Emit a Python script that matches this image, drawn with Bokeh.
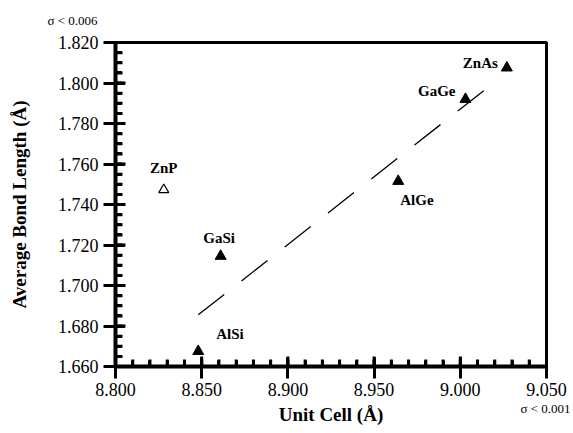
from bokeh.plotting import figure
from bokeh.models import FixedTicker, Range1d, Title, NumeralTickFormatter, LinearAxis
from bokeh.core.properties import value
from bokeh.embed import file_html
from bokeh.resources import INLINE

# data
names = ["ZnAs", "GaGe", "AlGe", "GaSi", "AlSi"]
unit_cell = [9.027, 9.003, 8.964, 8.861, 8.848]
bond_len = [1.8075, 1.792, 1.7515, 1.7145, 1.6675]
open_names = ["ZnP"]
open_cell = [8.828]
open_bond = [1.7473]
fit_x = [8.848, 9.0164]
fit_y = [1.6855, 1.7981]
x_ticks = [8.800, 8.850, 8.900, 8.950, 9.000, 9.050]
y_ticks = [1.660, 1.680, 1.700, 1.720, 1.740, 1.760, 1.780, 1.800, 1.820]
x_minor = [round(8.800 + 0.01 * i, 3) for i in range(26)]
y_minor = [round(1.660 + 0.005 * i, 3) for i in range(33)]
x_label = "Unit Cell (Å)"
y_label = "Average Bond Length (Å)"
x_sigma = "σ < 0.001"
y_sigma = "σ < 0.006"

SERIF = "Liberation Serif"
X0, X1 = 8.800, 9.050
Y0, Y1 = 1.660, 1.820
W, H = 573, 433
BL, BR, BT, BB = 115, 27, 42, 67
# data units per screen pixel inside the frame
px_x = (X1 - X0) / (W - BL - BR)
px_y = (Y1 - Y0) / (H - BT - BB)

p = figure(width=W, height=H, output_backend="svg", toolbar_location=None,
           x_range=Range1d(X0, X1), y_range=Range1d(Y0, Y1),
           min_border_left=BL, min_border_right=BR, min_border_top=BT, min_border_bottom=BB)
p.grid.visible = False
p.background_fill_color = "white"
p.border_fill_color = "white"
p.outline_line_color = "black"
p.outline_line_width = 3

for ax, ticks, minor in ((p.xaxis[0], x_ticks, x_minor), (p.yaxis[0], y_ticks, y_minor)):
    ax.ticker = FixedTicker(ticks=ticks, minor_ticks=minor)
    ax.formatter = NumeralTickFormatter(format="0.000")
    ax.axis_line_width = 4
    ax.axis_line_color = "black"
    ax.major_tick_line_width = 3
    ax.major_tick_line_color = "black"
    ax.major_tick_out = 12
    ax.major_tick_in = 9
    ax.minor_tick_line_width = 3
    ax.minor_tick_line_color = "black"
    ax.minor_tick_in = 6
    ax.minor_tick_out = 0
    ax.major_label_text_font = SERIF
    ax.major_label_text_font_size = "18px"
    ax.major_label_text_color = "black"
    ax.axis_label_text_font = SERIF
    ax.axis_label_text_font_size = "19px"
    ax.axis_label_text_font_style = "bold"
    ax.axis_label_text_color = "black"

p.yaxis.axis_label = y_label
p.yaxis.major_label_standoff = 5
p.yaxis.axis_label_standoff = 25
p.xaxis.major_label_standoff = 4

# a label-less axis pinned to the left frame edge whose "out" ticks point into the frame
inner_y = LinearAxis(fixed_location=X0, ticker=FixedTicker(ticks=y_ticks, minor_ticks=y_minor),
                     axis_line_color=None, major_tick_out=9, major_tick_in=0,
                     minor_tick_out=6, minor_tick_in=0,
                     major_tick_line_width=3, minor_tick_line_width=3,
                     major_tick_line_color="black", minor_tick_line_color="black",
                     major_label_text_alpha=0, major_label_text_font_size="1px",
                     major_label_standoff=0)
p.add_layout(inner_y, "right")

# inward ticks as short segments starting at the frame edges
p.segment(x0=x_minor, y0=[Y0] * len(x_minor), x1=x_minor,
          y1=[Y0 + 7 * px_y] * len(x_minor), line_color="black", line_width=3)
p.segment(x0=x_ticks, y0=[Y0] * len(x_ticks), x1=x_ticks,
          y1=[Y0 + 10 * px_y] * len(x_ticks), line_color="black", line_width=3)
p.segment(x0=[X0] * len(y_minor), y0=y_minor, x1=[X0 + 7 * px_x] * len(y_minor),
          y1=y_minor, line_color="black", line_width=3)
p.segment(x0=[X0] * len(y_ticks), y0=y_ticks, x1=[X0 + 10 * px_x] * len(y_ticks),
          y1=y_ticks, line_color="black", line_width=3)

p.line(fit_x, fit_y, line_color="black", line_width=1.3, line_dash="33 22")

p.scatter(unit_cell, bond_len, marker="triangle", size=11, fill_color="black",
          line_color="black")
p.scatter(open_cell, open_bond, marker="triangle", size=10, fill_color="white",
          line_color="black", line_width=1.2)

offsets = {"ZnAs": ("right", -9, -5), "GaGe": ("right", -10, -8),
           "AlGe": ("left", 2, 19), "GaSi": ("center", -1.5, -18),
           "AlSi": ("left", 18, -17), "ZnP": ("center", 0, -22)}
all_names = names + open_names
all_x = unit_cell + open_cell
all_y = bond_len + open_bond
for n, xv, yv in zip(all_names, all_x, all_y):
    al, dx, dy = offsets[n]
    p.text(x=[xv], y=[yv], text=[n], x_offset=dx, y_offset=dy,
           text_align=al, text_baseline="middle", text_font=value(SERIF),
           text_font_style="bold", text_font_size="15px", text_color="black")

p.add_layout(Title(text=y_sigma, align="left", offset=-68, standoff=25, vertical_align="top",
                   text_font=SERIF, text_font_size="13px", text_font_style="normal",
                   text_color="black"), "above")
p.add_layout(Title(text=x_sigma, align="right", offset=-24, standoff=0,
                   text_font=SERIF, text_font_size="13px", text_font_style="normal",
                   text_color="black"), "below")
p.add_layout(Title(text=x_label, align="center", standoff=-24, vertical_align="top",
                   text_font=SERIF, text_font_size="19px", text_font_style="bold",
                   text_color="black"), "below")

open("out.html", "w").write(file_html(p, INLINE))
